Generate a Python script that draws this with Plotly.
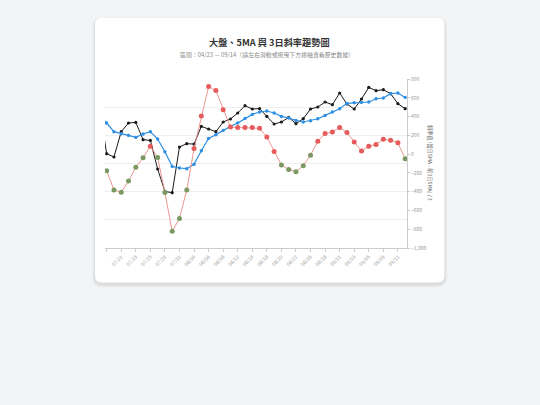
import plotly.graph_objects as go

# ---------------- data ----------------
dates = ["07/16", "07/17", "07/18", "07/21", "07/22", "07/23", "07/24", "07/25", "07/28", "07/29",
         "07/30", "07/31", "08/01", "08/04", "08/05", "08/06", "08/07", "08/08", "08/11", "08/12",
         "08/13", "08/14", "08/15", "08/18", "08/19", "08/20", "08/21", "08/22", "08/25", "08/26",
         "08/27", "08/28", "08/29", "09/01", "09/02", "09/03", "09/04", "09/05", "09/08", "09/09",
         "09/10", "09/11", "09/12"]

index_close = [25000, 23348, 23231, 24129, 24438, 24459, 23845, 23820, 22805, 22009,
               21963, 23586, 23703, 23690, 24317, 24225, 24129, 24473, 24580, 24793,
               25052, 24935, 24950, 24672, 24402, 24473, 24636, 24413, 24590, 24935,
               25006, 25183, 25087, 25503, 25112, 24935, 25290, 25701, 25584, 25620,
               25478, 25123, 24945]

ma5 = [24700, 24438, 24129, 24058, 23998, 23927, 24047, 24129, 23870, 23419,
       22897, 22840, 22815, 22975, 23454, 23891, 24022, 24175, 24317, 24438,
       24601, 24743, 24828, 24864, 24793, 24672, 24615, 24530, 24473, 24519,
       24590, 24708, 24828, 24945, 25134, 25158, 25169, 25183, 25300, 25325,
       25478, 25503, 25347]

slope3 = [None, -177, -381, -405, -286, -141, -39, 85, -35, -410,
          -822, -685, -381, 60, 405, 720, 677, 473, 289, 283,
          283, 283, 275, 183, 29, -116, -164, -187, -124, -11,
          138, 219, 236, 283, 230, 130, 32, 85, 103, 159,
          148, 120, -50]

tick_dates = dates[1::2]
tick_text = [""] + tick_dates[1:]

title_text = "大盤、5MA 與 3日斜率趨勢圖"
subtitle_text = "區間：04/23 — 09/14（請左右滑動或拖曳下方捲軸查看歷史數據）"
y2_title = "斜率值 (當日5MA - 前3日5MA) / 3"

# ---------------- layout geometry ----------------
W, H = 540, 405
L, R, T, B = 105, 407.5, 78.5, 248.3
PW, PH = R - L, B - T
BG = "#f3f4f6"


def px2x(px):
    return (px - L) / PW


def px2y(py):
    return (B - py) / PH


def rounded_rect(x0, y0, x1, y1, r):
    rx, ry = r / PW, r / PH
    X0, X1 = px2x(x0), px2x(x1)
    Y0, Y1 = px2y(y0), px2y(y1)  # Y0 top (larger), Y1 bottom
    return (f"M {X0+rx},{Y0} L {X1-rx},{Y0} Q {X1},{Y0} {X1},{Y0-ry} "
            f"L {X1},{Y1+ry} Q {X1},{Y1} {X1-rx},{Y1} "
            f"L {X0+rx},{Y1} Q {X0},{Y1} {X0},{Y1+ry} "
            f"L {X0},{Y0-ry} Q {X0},{Y0} {X0+rx},{Y0} Z")


FONT = "Noto Sans CJK TC, Noto Sans, sans-serif"
RED = "#e65b5b"
GREEN = "#7b9a63"

slope_colors = [RED if (v is not None and v >= 0) else GREEN for v in slope3]

fig = go.Figure()
fig.add_trace(go.Scatter(
    x=dates, y=index_close, name="大盤", mode="lines+markers",
    line=dict(color="#1a1a1a", width=1), marker=dict(color="#1a1a1a", size=3.2),
    yaxis="y", cliponaxis=True))
fig.add_trace(go.Scatter(
    x=dates, y=ma5, name="5MA", mode="lines+markers",
    line=dict(color="#2e8fe3", width=1.2), marker=dict(color="#2e8fe3", size=3.4),
    yaxis="y", cliponaxis=True))
fig.add_trace(go.Scatter(
    x=dates, y=slope3, name="3日斜率", mode="lines+markers",
    line=dict(color="#ec8a82", width=0.9), marker=dict(color=slope_colors, size=5),
    yaxis="y2", cliponaxis=True))

shapes = []
# soft shadow
for i, a in enumerate([0.025, 0.03, 0.035]):
    s = 3 - i
    shapes.append(dict(type="path", xref="paper", yref="paper", layer="below",
                       path=rounded_rect(95 - s, 17 - s + 2, 445 + s, 283 + s + 2, 7 + s),
                       fillcolor=f"rgba(0,0,0,{a})", line=dict(width=0)))
shapes.append(dict(type="path", xref="paper", yref="paper", layer="below",
                   path=rounded_rect(95, 17, 445, 283, 7),
                   fillcolor="#ffffff", line=dict(width=0)))

annotations = [
    dict(text=f"<b>{title_text}</b>", xref="paper", yref="paper", x=px2x(269.5), y=px2y(41.5),
         xanchor="center", yanchor="middle", showarrow=False,
         font=dict(family=FONT, size=9.2, color="#333333")),
    dict(text=subtitle_text, xref="paper", yref="paper", x=px2x(267), y=px2y(53.7),
         xanchor="center", yanchor="middle", showarrow=False,
         font=dict(family=FONT, size=5.9, color="#8a8a8a")),
    dict(text=y2_title, xref="paper", yref="paper", x=px2x(431), y=0.5, textangle=90,
         xanchor="center", yanchor="middle", showarrow=False,
         font=dict(family=FONT, size=5.2, color="#666666")),
]

fig.update_layout(
    width=W, height=H,
    margin=dict(l=L, r=W - R, t=T, b=H - B, pad=0, autoexpand=False),
    paper_bgcolor=BG, plot_bgcolor="rgba(0,0,0,0)",
    showlegend=False,
    font=dict(family=FONT, size=5, color="#999999"),
    shapes=shapes, annotations=annotations,
    xaxis=dict(type="category", categoryorder="array", categoryarray=dates,
               range=[0.77, 42.25], tickmode="array", tickvals=tick_dates, ticktext=tick_text,
               tickangle=-45, tickfont=dict(size=5, color="#999999"),
               showgrid=False, showline=True, linecolor="#cccccc", linewidth=1,
               ticks="outside", ticklen=3, tickcolor="#cccccc", zeroline=False),
    yaxis=dict(range=[20000, 26000], dtick=1000, showticklabels=False, showgrid=True,
               gridcolor="#efefef", gridwidth=1, zeroline=False, showline=False, ticks=""),
    yaxis2=dict(overlaying="y", side="right", range=[-1000, 800], dtick=200,
                tickformat=",", showgrid=False, zeroline=False, showline=True,
                linecolor="#cccccc", linewidth=1, ticks="outside", ticklen=2,
                tickcolor="#cccccc", tickfont=dict(size=5, color="#999999")),
)

fig.write_html(
    "out.html",
    config={"displayModeBar": False},
    post_script=f"document.body.style.margin='0';document.body.style.background='{BG}';",
)
